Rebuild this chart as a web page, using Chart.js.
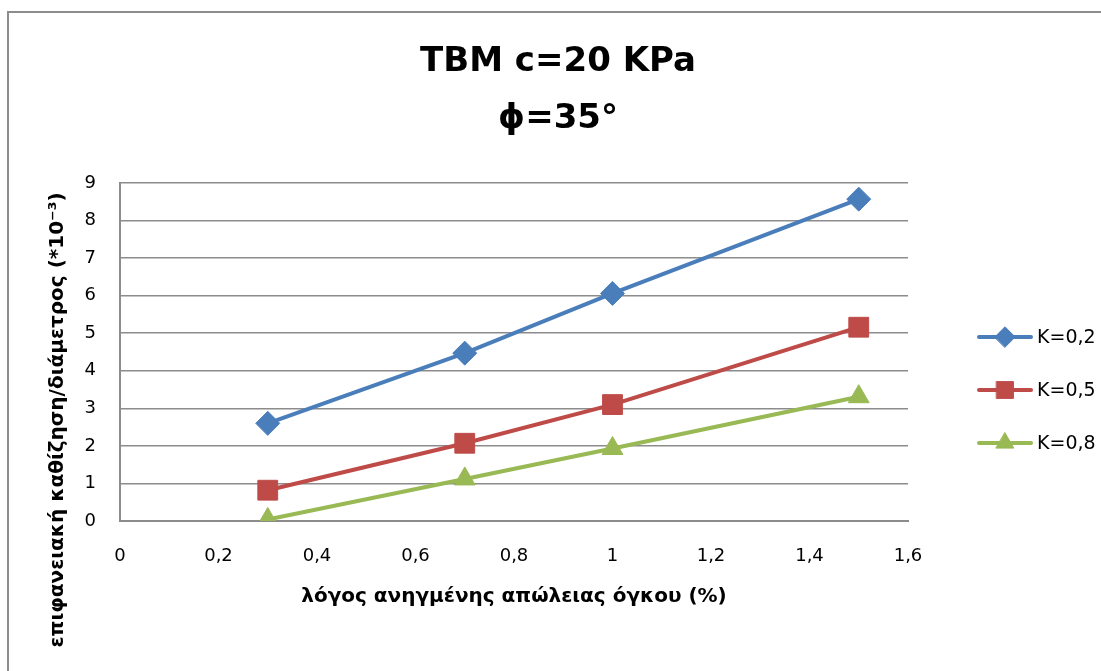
<!DOCTYPE html>
<html>
<head>
<meta charset="utf-8">
<script src="https://cdn.jsdelivr.net/npm/chart.js@4"></script>
<style>
  html, body { margin: 0; padding: 0; background: #fff; }
  canvas { display: block; }
</style>
</head>
<body>
<canvas id="tbmChart" width="1101" height="671"></canvas>
<script>
// values
var volumeLoss = [0.3, 0.7, 1.0, 1.5];
var k02 = [2.6, 4.47, 6.06, 8.57];
var k05 = [0.82, 2.07, 3.1, 5.16];
var k08 = [0.04, 1.12, 1.93, 3.31];
var seriesNames = ['K=0,2', 'K=0,5', 'K=0,8'];
var titleLines = ['TBM c=20 KPa', 'ϕ=35°'];
var xTitle = 'λόγος ανηγμένης απώλειας όγκου (%)';
var yTitle = 'επιφανειακή καθίζηση/διάμετρος (*10⁻³)';

var FONT = '"DejaVu Sans", sans-serif';

function points(ys) {
    return volumeLoss.map(function (x, i) { return { x: x, y: ys[i] }; });
}
function comma(v) {
    return String(Math.round(v * 10) / 10).replace('.', ',');
}

// frame round the chart, y title and the legend on the right
var extras = {
    id: 'extras',
    beforeDraw: function (chart) {
        var ctx = chart.ctx;
        ctx.save();
        ctx.strokeStyle = '#8c8c8c';
        ctx.lineWidth = 2;
        ctx.beginPath();
        ctx.moveTo(8, 700);
        ctx.lineTo(8, 12);
        ctx.lineTo(1101, 12);
        ctx.stroke();
        ctx.restore();
    },
    afterDraw: function (chart) {
        var ctx = chart.ctx;
        ctx.save();
        // y axis title
        ctx.translate(58, 420);
        ctx.rotate(-Math.PI / 2);
        ctx.font = 'bold 20px ' + FONT;
        ctx.fillStyle = '#000';
        ctx.textAlign = 'center';
        ctx.textBaseline = 'middle';
        ctx.fillText(yTitle, 0, 0);
        ctx.restore();

        // legend
        var rows = [337, 390, 443];
        chart.data.datasets.forEach(function (ds, i) {
            var y = rows[i];
            ctx.save();
            ctx.strokeStyle = ds.borderColor;
            ctx.lineWidth = 4;
            ctx.lineCap = 'round';
            ctx.beginPath();
            ctx.moveTo(979, y);
            ctx.lineTo(1031, y);
            ctx.stroke();
            ctx.fillStyle = ds.backgroundColor;
            ctx.strokeStyle = ds.borderColor;
            ctx.lineWidth = 1;
            Chart.helpers.drawPoint(ctx, {
                pointStyle: ds.pointStyle,
                radius: ds.pointRadius * 0.85,
                borderWidth: 1,
                rotation: 0
            }, 1005, y);
            ctx.fillStyle = '#000';
            ctx.font = '19px ' + FONT;
            ctx.textAlign = 'left';
            ctx.textBaseline = 'middle';
            ctx.fillText(ds.label, 1037, y + 1);
            ctx.restore();
        });
    }
};

var ctx = document.getElementById('tbmChart').getContext('2d');
var chart = new Chart(ctx, {
    type: 'scatter',
    data: {
        datasets: [{
            label: seriesNames[0],
            data: points(k02),
            borderColor: '#4a7ebb',
            backgroundColor: '#4a7ebb',
            pointStyle: 'rectRot',
            pointRadius: 12
        }, {
            label: seriesNames[1],
            data: points(k05),
            borderColor: '#be4b48',
            backgroundColor: '#be4b48',
            pointStyle: 'rect',
            pointRadius: 14
        }, {
            label: seriesNames[2],
            data: points(k08),
            borderColor: '#98b954',
            backgroundColor: '#98b954',
            pointStyle: 'triangle',
            pointRadius: 12
        }]
    },
    options: {
        responsive: false,
        animation: false,
        showLine: true,
        datasets: {
            scatter: { borderWidth: 4, pointBorderWidth: 1, tension: 0 }
        },
        layout: { padding: { left: 15, right: 0, top: 0, bottom: 0 } },
        plugins: {
            legend: { display: false },
            tooltip: { enabled: false },
            title: {
                display: true,
                text: titleLines,
                color: '#000',
                font: { family: FONT, size: 34, weight: 'bold', lineHeight: 57 / 34 },
                padding: { top: 34, bottom: 35 }
            }
        },
        scales: {
            x: {
                type: 'linear',
                min: 0,
                max: 1.6,
                grid: { display: false, drawTicks: false },
                border: { display: true, color: '#8c8c8c', width: 2 },
                ticks: {
                    stepSize: 0.2,
                    padding: 25,
                    color: '#000',
                    font: { family: FONT, size: 18 },
                    callback: function (v) { return comma(v); }
                },
                title: {
                    display: true,
                    text: xTitle,
                    color: '#000',
                    font: { family: FONT, size: 20, weight: 'bold' },
                    padding: { top: 0, bottom: 62 }
                },
                afterFit: function (s) { s.height = 150; }
            },
            y: {
                min: 0,
                max: 9,
                grid: { color: '#8c8c8c', lineWidth: 1.5, drawTicks: false },
                border: { display: true, color: '#8c8c8c', width: 2 },
                ticks: {
                    stepSize: 1,
                    padding: 24,
                    color: '#000',
                    font: { family: FONT, size: 18 }
                },
                afterFit: function (s) { s.width = 105; }
            },
            spacer: {
                position: 'right',
                display: true,
                grid: { display: false },
                border: { display: false },
                ticks: { display: false },
                afterFit: function (s) { s.width = 193; }
            }
        }
    },
    plugins: [extras]
});
</script>
</body>
</html>
